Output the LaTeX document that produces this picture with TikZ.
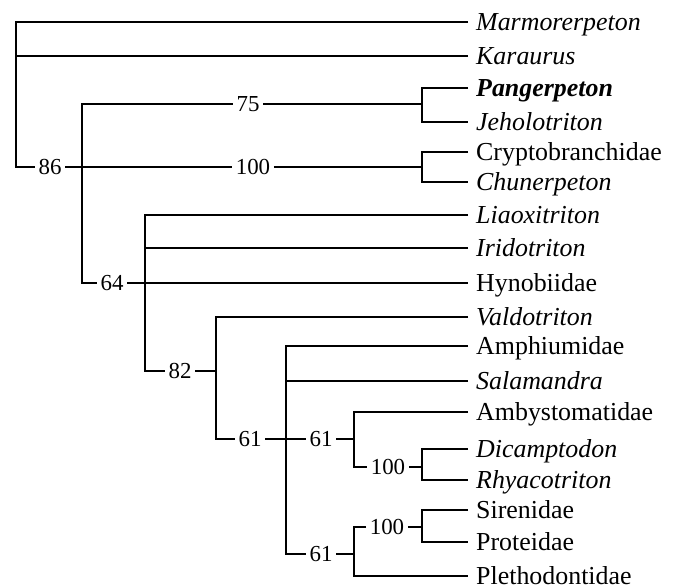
\documentclass[tikz,border=0pt]{standalone}
\usepackage{fontspec}
\setmainfont{Liberation Serif}
\begin{document}
\begin{tikzpicture}[x=1bp,y=-1bp,
  br/.style={line width=1.6bp, line join=miter},
  leaf/.style={anchor=west, inner xsep=8bp, inner ysep=0pt, text height=16.6bp, text depth=0.4bp, font=\fontsize{26}{30}\selectfont},
  sup/.style={inner xsep=3.5bp, inner ysep=0pt, text height=15.5bp, text depth=0pt, font=\fontsize{23}{27}\selectfont}]
\useasboundingbox (0,0) rectangle (680,588);
% leaves
\node[leaf] (mar) at (468,22) {\textit{Marmorerpeton}};
\node[leaf] (kar) at (468,56) {\textit{Karaurus}};
\node[leaf] (pan) at (468,88) {\textbf{\textit{Pangerpeton}}};
\node[leaf] (jeh) at (468,122) {\textit{Jeholotriton}};
\node[leaf] (cry) at (468,152) {Cryptobranchidae};
\node[leaf] (chu) at (468,182) {\textit{Chunerpeton}};
\node[leaf] (lia) at (468,215) {\textit{Liaoxitriton}};
\node[leaf] (iri) at (468,248) {\textit{Iridotriton}};
\node[leaf] (hyn) at (468,283) {Hynobiidae};
\node[leaf] (val) at (468,317) {\textit{Valdotriton}};
\node[leaf] (amp) at (468,346) {Amphiumidae};
\node[leaf] (sal) at (468,381) {\textit{Salamandra}};
\node[leaf] (amb) at (468,412) {Ambystomatidae};
\node[leaf] (dic) at (468,449) {\textit{Dicamptodon}};
\node[leaf] (rhy) at (468,480) {\textit{Rhyacotriton}};
\node[leaf] (sir) at (468,510) {Sirenidae};
\node[leaf] (pro) at (468,542) {Proteidae};
\node[leaf] (ple) at (468,576) {Plethodontidae};
% support labels
\node[sup] (n86) at (50,167) {86};
\node[sup] (n75) at (248,104) {75};
\node[sup] (n100a) at (253,167) {100};
\node[sup] (n64) at (112,283) {64};
\node[sup] (n82) at (180,371) {82};
\node[sup] (n61a) at (250,439) {61};
\node[sup] (n61b) at (321,439) {61};
\node[sup] (n100b) at (388,467) {100};
\node[sup] (n61c) at (321,554) {61};
\node[sup] (n100c) at (387,527) {100};
% clade coordinates
\coordinate (root) at (16,167);
\coordinate (c86) at (82,167);
\coordinate (c75) at (422,104);
\coordinate (c100a) at (422,167);
\coordinate (c64) at (145,283);
\coordinate (c82) at (216,371);
\coordinate (c61a) at (286,439);
\coordinate (c61b) at (354,439);
\coordinate (c100b) at (422,467);
\coordinate (c61c) at (354,554);
\coordinate (c100c) at (422,527);
% branches
\draw[br] (mar.west) -| (root) -- (n86.west);
\draw[br] (kar.west) -- (kar.west -| root);
\draw[br] (n86.east) -- (c86);
\draw[br] (n75.west) -| (c86) |- (n64.west);
\draw[br] (c86) -- (n100a.west);
\draw[br] (n75.east) -- (c75);
\draw[br] (pan.west) -| (c75) |- (jeh.west);
\draw[br] (n100a.east) -- (c100a);
\draw[br] (cry.west) -| (c100a) |- (chu.west);
\draw[br] (n64.east) -- (c64) -- (hyn.west);
\draw[br] (lia.west) -| (c64) |- (n82.west);
\draw[br] (iri.west) -- (iri.west -| c64);
\draw[br] (n82.east) -- (c82);
\draw[br] (val.west) -| (c82) |- (n61a.west);
\draw[br] (n61a.east) -- (c61a) -- (n61b.west);
\draw[br] (amp.west) -| (c61a) |- (n61c.west);
\draw[br] (sal.west) -- (sal.west -| c61a);
\draw[br] (n61b.east) -- (c61b);
\draw[br] (amb.west) -| (c61b) |- (n100b.west);
\draw[br] (n100b.east) -- (c100b);
\draw[br] (dic.west) -| (c100b) |- (rhy.west);
\draw[br] (n61c.east) -- (c61c);
\draw[br] (n100c.west) -| (c61c) |- (ple.west);
\draw[br] (n100c.east) -- (c100c);
\draw[br] (sir.west) -| (c100c) |- (pro.west);
\end{tikzpicture}
\end{document}
